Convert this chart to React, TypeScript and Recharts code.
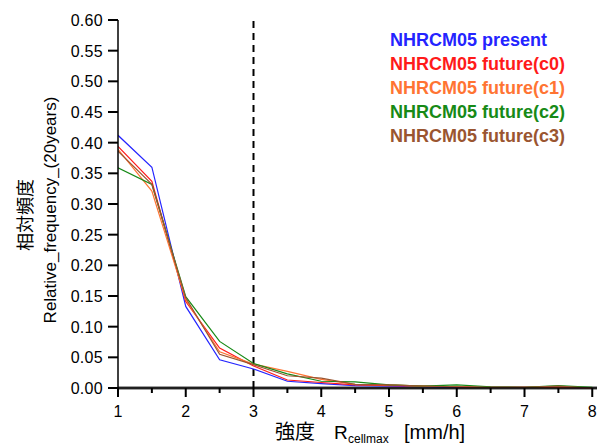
import React from "react";
import {
  LineChart,
  Line,
  XAxis,
  YAxis,
  ReferenceLine,
  Legend,
  Label,
} from "recharts";

const xValues = [1, 1.5, 2, 2.5, 3, 3.5, 4, 4.5, 5, 5.5, 6, 6.5, 7, 7.5, 8];
const present = [0.412, 0.36, 0.133, 0.046, 0.031, 0.011, 0.007, 0.004, 0.003, 0.002, 0.001, 0.001, 0.001, 0.001, 0.0];
const futureC0 = [0.394, 0.337, 0.141, 0.065, 0.036, 0.013, 0.009, 0.005, 0.004, 0.003, 0.002, 0.001, 0.001, 0.001, 0.0];
const futureC1 = [0.389, 0.321, 0.144, 0.059, 0.039, 0.027, 0.014, 0.006, 0.005, 0.003, 0.002, 0.001, 0.001, 0.002, 0.0];
const futureC2 = [0.359, 0.332, 0.149, 0.076, 0.04, 0.023, 0.011, 0.01, 0.005, 0.003, 0.005, 0.002, 0.001, 0.004, 0.001];
const futureC3 = [0.386, 0.332, 0.147, 0.055, 0.038, 0.02, 0.016, 0.006, 0.005, 0.003, 0.002, 0.001, 0.001, 0.003, 0.0];

const seriesNames = [
  "NHRCM05 present",
  "NHRCM05 future(c0)",
  "NHRCM05 future(c1)",
  "NHRCM05 future(c2)",
  "NHRCM05 future(c3)",
];
const seriesColors = ["#2424ff", "#ff1a1a", "#ff7433", "#178a17", "#9a5530"];
const seriesValues = [present, futureC0, futureC1, futureC2, futureC3];

const xTicks = [1, 1.5, 2, 2.5, 3, 3.5, 4, 4.5, 5, 5.5, 6, 6.5, 7, 7.5, 8];
const yTicks = [0, 0.05, 0.1, 0.15, 0.2, 0.25, 0.3, 0.35, 0.4, 0.45, 0.5, 0.55, 0.6];

const data = xValues.map((x, i) => {
  const row: Record<string, number> = { x };
  seriesNames.forEach((n, k) => {
    row["s" + k] = seriesValues[k][i];
  });
  return row;
});

const FONT = "'Liberation Sans', Arial, 'Noto Sans CJK JP', sans-serif";

function renderXTick(props: any) {
  const { x, y, payload } = props;
  const major = Number.isInteger(payload.value);
  return (
    <g key={"xt" + payload.value}>
      <rect x={x - 1} y={y} width={2} height={major ? 9 : 5} fill="#000" />
      {major && (
        <text x={x} y={y + 29} textAnchor="middle" fontSize={16} fontFamily={FONT} fill="#000">
          {payload.value}
        </text>
      )}
    </g>
  );
}

function renderYTick(props: any) {
  const { x, y, payload } = props;
  return (
    <g key={"yt" + payload.value}>
      <rect x={x - 10} y={y - 1} width={10} height={2} fill="#000" />
      <text x={x - 15} y={y + 6} textAnchor="end" fontSize={16} letterSpacing={0.3} fontFamily={FONT} fill="#000">
        {Number(payload.value).toFixed(2)}
      </text>
    </g>
  );
}

const XTitle = () => (
  <text y={439} fontFamily={FONT} fill="#000">
    <tspan x={275} fontSize={20}>強度</tspan>
    <tspan x={334} fontSize={19}>R</tspan>
    <tspan x={348} fontSize={12} dy={4}>cellmax</tspan>
    <tspan x={404} fontSize={20} dy={-4}>[mm/h]</tspan>
  </text>
);

const YTitle = () => (
  <g fontFamily={FONT} fill="#000">
    <text x={26} y={215} transform="rotate(-90 26 215)" textAnchor="middle" dominantBaseline="central" fontSize={18}>
      相対頻度
    </text>
    <text x={50} y={210} transform="rotate(-90 50 210)" textAnchor="middle" dominantBaseline="central" fontSize={17}>
      Relative_frequency_(20years)
    </text>
  </g>
);

const LegendContent = () => (
  <div style={{ fontFamily: FONT, fontWeight: "bold", fontSize: 18, lineHeight: "24px" }}>
    {seriesNames.map((n, i) => (
      <div key={n} style={{ color: seriesColors[i], whiteSpace: "nowrap" }}>
        {n}
      </div>
    ))}
  </div>
);

export default function App() {
  return (
    <div style={{ position: "absolute", left: 0, top: 0, width: 603, height: 444, background: "#fff" }}>
      <LineChart width={603} height={444} data={data} margin={{ top: 20, right: 6, left: 0, bottom: 0 }}>
        <XAxis
          dataKey="x"
          type="number"
          domain={[1, 8.07]}
          ticks={xTicks}
          allowDataOverflow
          height={56}
          tickSize={0}
          tickMargin={0}
          tickLine={false}
          tick={renderXTick}
          axisLine={{ stroke: "#000", strokeWidth: 1.5 }}
          interval={0}
        >
          <Label content={<XTitle />} />
        </XAxis>
        <XAxis
          xAxisId="top"
          orientation="top"
          dataKey="x"
          type="number"
          domain={[1, 8.07]}
          height={0}
          tick={false}
          tickLine={false}
          axisLine={{ stroke: "#000", strokeWidth: 2 }}
        />
        <YAxis
          type="number"
          domain={[0, 0.6]}
          ticks={yTicks}
          width={118}
          tickSize={0}
          tickMargin={0}
          interval={0}
          tick={renderYTick}
          tickLine={false}
          axisLine={{ stroke: "#000", strokeWidth: 1.5 }}
        >
          <Label content={<YTitle />} />
        </YAxis>
        <YAxis
          yAxisId="right"
          orientation="right"
          type="number"
          domain={[0, 0.6]}
          width={0}
          tick={false}
          tickLine={false}
          axisLine={{ stroke: "#000", strokeWidth: 1.5 }}
        />
        <ReferenceLine y={0} stroke="#808080" strokeWidth={3.5} />
        <ReferenceLine x={3} stroke="#000" strokeWidth={2} strokeDasharray="7 5" />
        {seriesNames.map((n, i) => (
          <Line
            key={n}
            dataKey={"s" + i}
            name={n}
            type="linear"
            stroke={seriesColors[i]}
            strokeWidth={1.2}
            dot={false}
            isAnimationActive={false}
          />
        ))}
        <Legend
          layout="vertical"
          align="center"
          verticalAlign="middle"
          content={<LegendContent />}
          wrapperStyle={{ left: 390, top: 28, width: 210, bottom: "auto", right: "auto" }}
        />
      </LineChart>
    </div>
  );
}
